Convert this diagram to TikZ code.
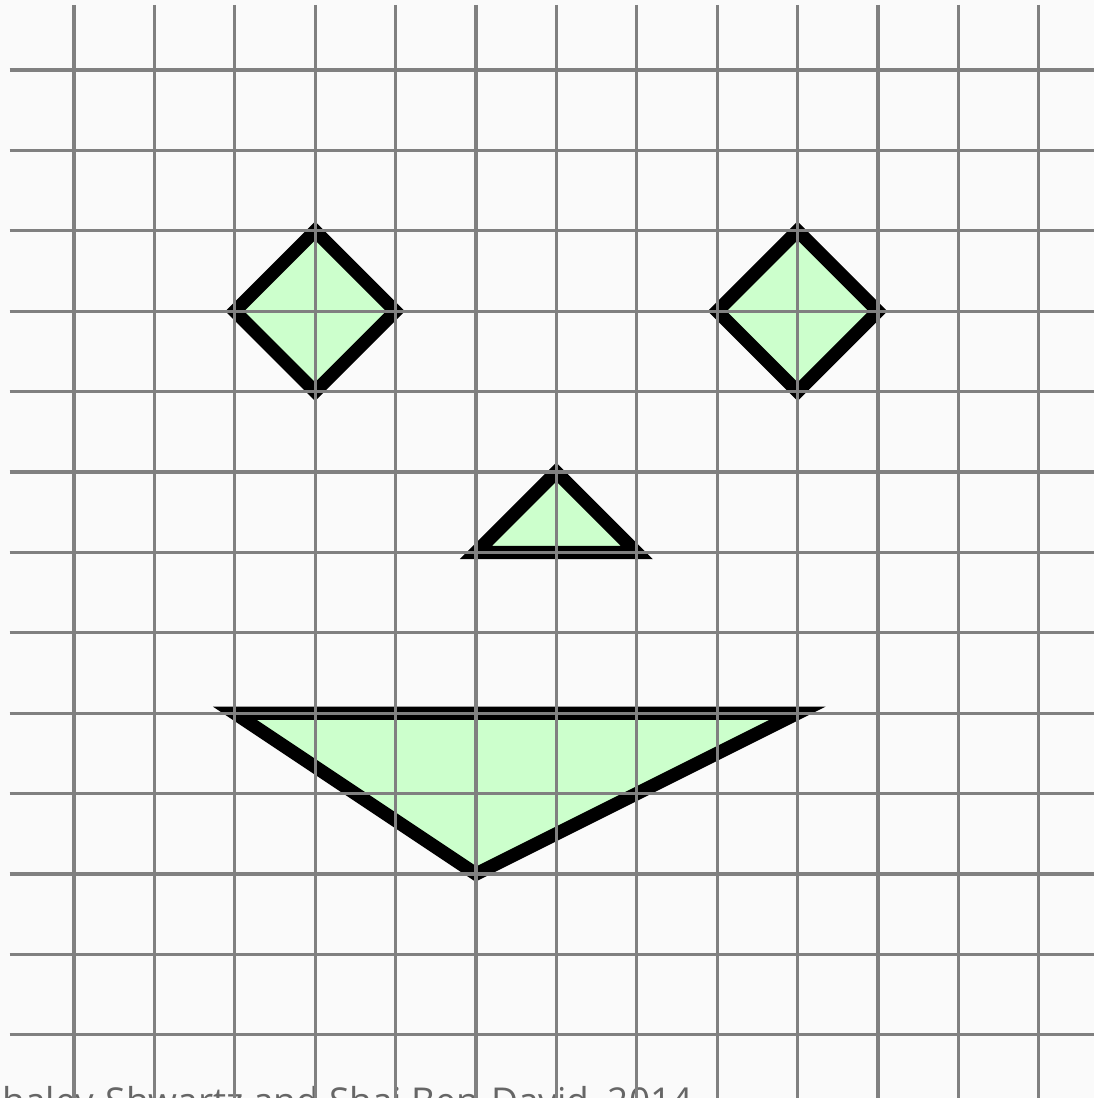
\documentclass[tikz,border=0pt]{standalone}
\usepackage{fontspec}
\newfontfamily\creditfont{Open Sans}
\usetikzlibrary{positioning}
\usepackage{xcolor}
\definecolor{Paper}{HTML}{FAFAFA}
\definecolor{GridLine}{HTML}{808080}
\definecolor{FaceFill}{HTML}{CCFFCC}
\definecolor{Credit}{HTML}{666666}

\begin{document}
\begin{tikzpicture}[
            gridline/.style={line width=1.1pt, color=GridLine},
            facepart/.style={
                draw=black,
                fill=FaceFill,
                line width=4.7pt,
                miter limit=10
            },
            credit/.style={font=\creditfont\fontsize{13.1}{15}\selectfont, text=Credit, inner sep=0pt}
        ]
            \useasboundingbox[fill=Paper] (-0.920,0.871) rectangle (12.687,-12.786);

            % Credit line, under the grid
            \node[credit, anchor=base east] (credit) at (7.70,-12.99) {Shai Shalev-Shwartz and Shai Ben-David, 2014};

            % Eyes
            \draw[facepart] (2,-3) -- (3,-2) -- (4,-3) -- (3,-4) -- cycle;
            \draw[facepart] (8,-3) -- (9,-2) -- (10,-3) -- (9,-4) -- cycle;

            % Nose
            \draw[facepart] (5,-6) -- (6,-5) -- (7,-6) -- cycle;

            % Mouth
            \draw[facepart] (2,-8) -- (9,-8) -- (5,-10) -- cycle;

            % Grid on top
            \foreach \col in {0,...,12}
                \draw[gridline] (\col,0.81) -- (\col,-12.786);
            \foreach \row in {0,...,12}
                \draw[gridline] (-0.80,-\row) -- (12.687,-\row);
        \end{tikzpicture}
\end{document}
